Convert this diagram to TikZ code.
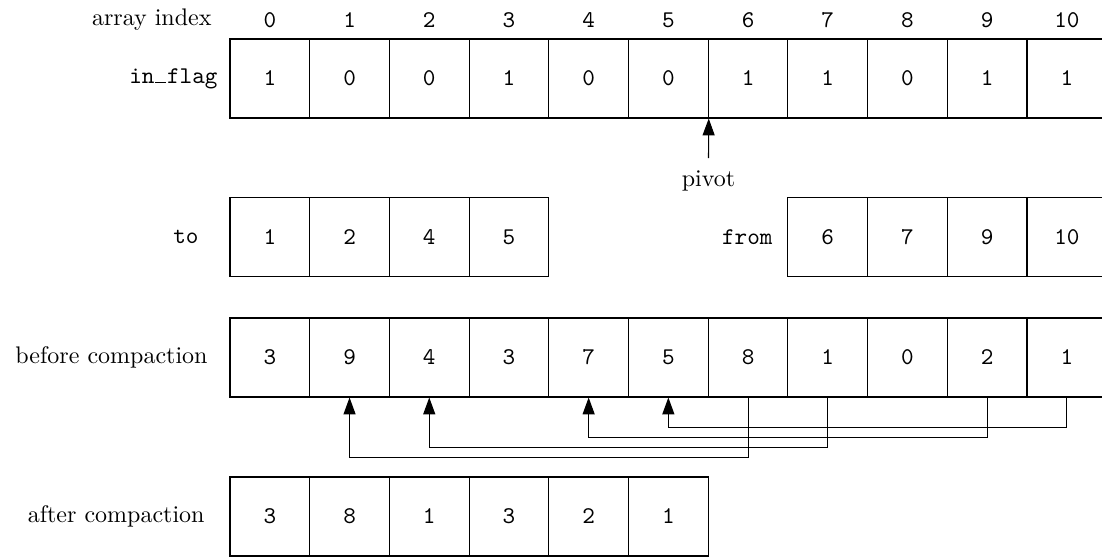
\documentclass[tikz,border=0pt]{standalone}
\usetikzlibrary{arrows.meta}
\begin{document}
\begin{tikzpicture}[x=0.4167pt,y=-0.4167pt,
  cell/.style={draw, line width=0.45pt, minimum width=33.2pt, minimum height=32.9pt, inner sep=0pt, font=\ttfamily},
  lbl/.style={inner sep=0pt, anchor=east},
  idx/.style={inner sep=0pt, font=\ttfamily},
  arr/.style={line width=0.45pt, -{Triangle[length=7pt,width=5pt]}}]
\clip (0,0) rectangle (1102,557);
% index labels
\node[lbl] (ail) at (212,20) {array index};
\foreach \i in {0,...,10} \node[idx] (ix\i) at ({230+79.7*(\i+0.5)},20) {\i};
% in_flag row
\node[lbl] (lin) at (218,78.5) {\texttt{in\makebox[0.525em]{\rule{0.45em}{0.4pt}}flag}};
\foreach \v [count=\i from 0] in {1,0,0,1,0,0,1,1,0,1,1}
  \node[cell] (a\i) at ({230+79.7*(\i+0.5)},78.5) {\v};
% pivot
\node[anchor=north, inner sep=0pt] (pivot) at (708.5,170) {pivot};
\draw[arr] ([yshift=5pt]pivot.north) -- (a5.south east);
% to / from
\node[lbl] (lto) at (199,237) {\texttt{to}};
\foreach \v [count=\i from 0] in {1,2,4,5}
  \node[cell] (t\i) at ({230+79.7*(\i+0.5)},237) {\v};
\node[lbl] (lfrom) at (773,237) {\texttt{from}};
\foreach \v [count=\i from 7] in {6,7,9,10}
  \node[cell] (f\i) at ({230+79.7*(\i+0.5)},237) {\v};
% before compaction
\node[lbl] (lbef) at (208,357.5) {before compaction};
\foreach \v [count=\i from 0] in {3,9,4,3,7,5,8,1,0,2,1}
  \node[cell] (b\i) at ({230+79.7*(\i+0.5)},357.5) {\v};
% after compaction
\node[lbl] (laft) at (205,516.5) {after compaction};
\foreach \v [count=\i from 0] in {3,8,1,3,2,1}
  \node[cell] (c\i) at ({230+79.7*(\i+0.5)},516.5) {\v};
% compaction moves
\draw[arr] (b6.south) -- ++(0,60) -| (b1.south);
\draw[arr] (b7.south) -- ++(0,50) -| (b2.south);
\draw[arr] (b9.south) -- ++(0,40) -| (b4.south);
\draw[arr] (b10.south) -- ++(0,30) -| (b5.south);
\end{tikzpicture}
\end{document}
